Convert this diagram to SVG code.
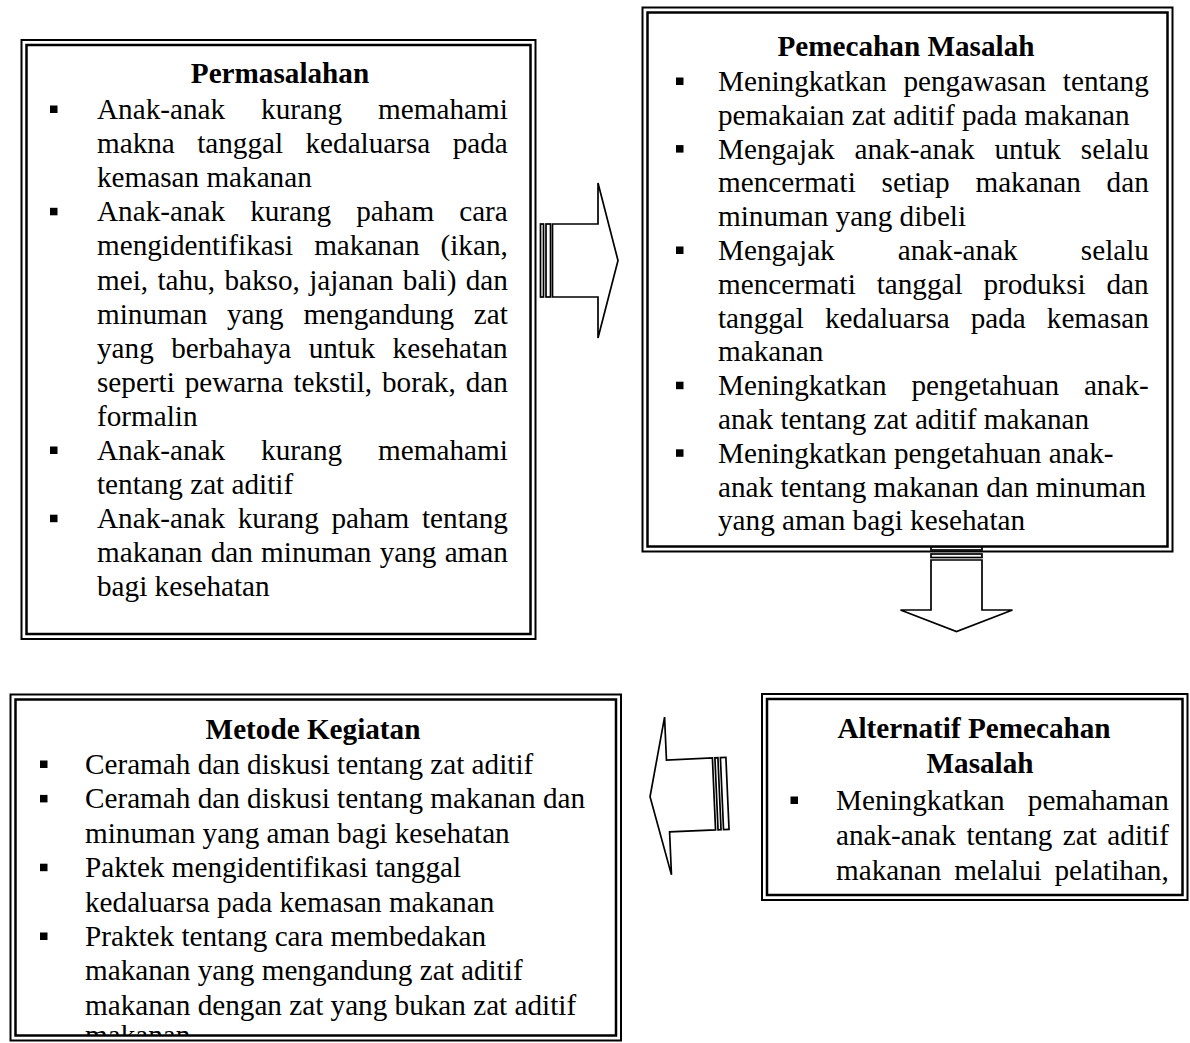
<svg xmlns="http://www.w3.org/2000/svg" xmlns:xlink="http://www.w3.org/1999/xlink" width="1190" height="1043" viewBox="0 0 1190 1043">
<style>
.t{font-family:"Liberation Serif","Times New Roman",serif;font-size:29.2px;fill:#000}
.h{font-weight:bold;text-anchor:middle}
.bo{fill:none;stroke:#000;stroke-width:2}
.bi{fill:none;stroke:#000;stroke-width:2.5}
.ar{fill:#fff;stroke:#000;stroke-width:1.7;stroke-linejoin:miter}
</style>
<defs>
<rect id="sq" width="7.5" height="7.5" fill="#000"/>
<clipPath id="clipM"><rect x="15" y="700" width="605" height="335"/></clipPath>
</defs>
<rect width="1190" height="1043" fill="#fff"/>

<g id="permasalahan">
<rect class="bo" x="21.5" y="40" width="514" height="599"/>
<rect class="bi" x="26.5" y="45" width="504" height="589"/>
<text class="t h" x="280" y="83">Permasalahan</text>
<use href="#sq" x="50" y="105.5"/>
<use href="#sq" x="50" y="207.8"/>
<use href="#sq" x="50" y="446.5"/>
<use href="#sq" x="50" y="514.7"/>
<text class="t" x="97" y="119" style="word-spacing:28.7px">Anak-anak kurang memahami</text>
<text class="t" x="97" y="153.1" style="word-spacing:15.1px">makna tanggal kedaluarsa pada</text>
<text class="t" x="97" y="187.2">kemasan makanan</text>
<text class="t" x="97" y="221.3" style="word-spacing:17.8px">Anak-anak kurang paham cara</text>
<text class="t" x="97" y="255.4" style="word-spacing:13.7px">mengidentifikasi makanan (ikan,</text>
<text class="t" x="97" y="289.5" style="word-spacing:2.1px">mei, tahu, bakso, jajanan bali) dan</text>
<text class="t" x="97" y="323.6" style="word-spacing:12.4px">minuman yang mengandung zat</text>
<text class="t" x="97" y="357.7" style="word-spacing:10.2px">yang berbahaya untuk kesehatan</text>
<text class="t" x="97" y="391.8" style="word-spacing:2.6px">seperti pewarna tekstil, borak, dan</text>
<text class="t" x="97" y="425.9">formalin</text>
<text class="t" x="97" y="460" style="word-spacing:28.7px">Anak-anak kurang memahami</text>
<text class="t" x="97" y="494.1">tentang zat aditif</text>
<text class="t" x="97" y="528.2" style="word-spacing:5.4px">Anak-anak kurang paham tentang</text>
<text class="t" x="97" y="562.3" style="word-spacing:1px">makanan dan minuman yang aman</text>
<text class="t" x="97" y="596.4">bagi kesehatan</text>
</g>

<g id="pemecahan-masalah">
<rect class="bo" x="642.5" y="7.5" width="530" height="544"/>
<rect class="bi" x="647.5" y="12.5" width="520" height="534"/>
<text class="t h" x="906" y="56">Pemecahan Masalah</text>
<use href="#sq" x="676" y="77.5"/>
<use href="#sq" x="676" y="145.1"/>
<use href="#sq" x="676" y="246.5"/>
<use href="#sq" x="676" y="381.7"/>
<use href="#sq" x="676" y="449.3"/>
<text class="t" x="718" y="91" style="word-spacing:9.5px">Meningkatkan pengawasan tentang</text>
<text class="t" x="718" y="124.8">pemakaian zat aditif pada makanan</text>
<text class="t" x="718" y="158.6" style="word-spacing:12.6px">Mengajak anak-anak untuk selalu</text>
<text class="t" x="718" y="192.4" style="word-spacing:18.5px">mencermati setiap makanan dan</text>
<text class="t" x="718" y="226.2">minuman yang dibeli</text>
<text class="t" x="718" y="260" style="word-spacing:55.8px">Mengajak anak-anak selalu</text>
<text class="t" x="718" y="293.8" style="word-spacing:13.6px">mencermati tanggal produksi dan</text>
<text class="t" x="718" y="327.6" style="word-spacing:13.7px">tanggal kedaluarsa pada kemasan</text>
<text class="t" x="718" y="361.4">makanan</text>
<text class="t" x="718" y="395.2" style="word-spacing:17.6px">Meningkatkan pengetahuan anak-</text>
<text class="t" x="718" y="429">anak tentang zat aditif makanan</text>
<text class="t" x="718" y="462.8">Meningkatkan pengetahuan anak-</text>
<text class="t" x="718" y="496.6">anak tentang makanan dan minuman</text>
<text class="t" x="718" y="530.4">yang aman bagi kesehatan</text>
</g>

<g id="alternatif-pemecahan-masalah">
<rect class="bo" x="762" y="694" width="425.5" height="206"/>
<rect class="bi" x="767" y="699" width="415.5" height="196"/>
<text class="t h" x="974" y="738">Alternatif Pemecahan</text>
<text class="t h" x="980" y="773">Masalah</text>
<use href="#sq" x="790.5" y="796.5"/>
<text class="t" x="836" y="810" style="word-spacing:15.9px">Meningkatkan pemahaman</text>
<text class="t" x="836" y="845" style="word-spacing:3.2px">anak-anak tentang zat aditif</text>
<text class="t" x="836" y="880" style="word-spacing:5.5px">makanan melalui pelatihan,</text>
</g>

<g id="metode-kegiatan">
<rect class="bo" x="10.5" y="694.5" width="610.5" height="346"/>
<rect class="bi" x="15.5" y="699.5" width="600.5" height="336"/>
<text class="t h" x="313" y="739">Metode Kegiatan</text>
<use href="#sq" x="40" y="760.5"/>
<use href="#sq" x="40" y="794.9"/>
<use href="#sq" x="40" y="863.7"/>
<use href="#sq" x="40" y="932.5"/>
<text class="t" x="85" y="774">Ceramah dan diskusi tentang zat aditif</text>
<text class="t" x="85" y="808.4">Ceramah dan diskusi tentang makanan dan</text>
<text class="t" x="85" y="842.8">minuman yang aman bagi kesehatan</text>
<text class="t" x="85" y="877.2">Paktek mengidentifikasi tanggal</text>
<text class="t" x="85" y="911.6">kedaluarsa pada kemasan makanan</text>
<text class="t" x="85" y="946">Praktek tentang cara membedakan</text>
<text class="t" x="85" y="980.4">makanan yang mengandung zat aditif</text>
<text class="t" x="85" y="1014.8">makanan dengan zat yang bukan zat aditif</text>
<text class="t" x="85" y="1045" clip-path="url(#clipM)">makanan</text>
</g>

<g id="connectors">
<g id="arrow-right">
<rect class="ar" x="540.5" y="224" width="3" height="73"/>
<rect class="ar" x="546" y="224" width="4.5" height="73"/>
<polygon class="ar" points="552.5,224 598,224 598,183 618,260.5 598,338 598,297 552.5,297"/>
</g>
<g id="arrow-down">
<rect class="ar" x="931" y="547" width="51" height="3"/>
<rect class="ar" x="931" y="554" width="51" height="3.5"/>
<polygon class="ar" points="931,560 982,560 982,610 1012.5,610 956.5,631.5 900.5,610 931,610"/>
</g>
<g id="arrow-left" transform="rotate(-2.5 690 795)">
<polygon class="ar" points="650,795 668,716 668,759 714,759 714,831 668,831 668,874"/>
<rect class="ar" x="716.5" y="759" width="3" height="72"/>
<rect class="ar" x="722" y="759" width="5.5" height="72"/>
</g>
</g>
</svg>
